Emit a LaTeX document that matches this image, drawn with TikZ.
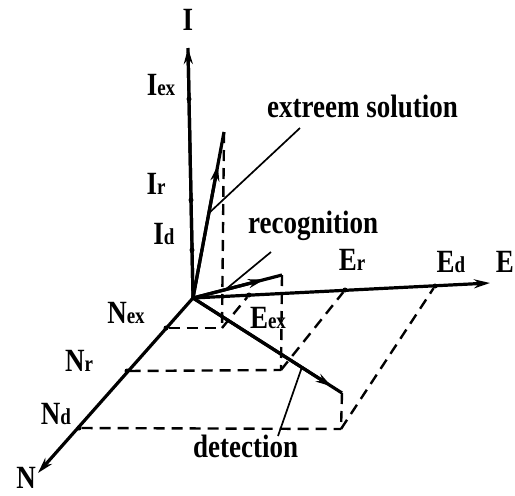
\documentclass[tikz,border=0pt]{standalone}
\usepackage{fontspec}
\setmainfont{Liberation Serif}
\usetikzlibrary{arrows.meta,calc}
\newcommand\tl[1]{\scalebox{1}[1.2]{#1}}
\newcommand\sbs[1]{{\fontsize{19}{19}\selectfont #1}}
\begin{document}
\begin{tikzpicture}[x=1pt,y=-1pt,
  lab/.style={font=\fontsize{27}{27}\selectfont\bfseries, inner sep=0pt},
  axis/.style={line width=3.2pt},
  vec/.style={line width=3.2pt},
  lead/.style={line width=1.7pt},
  dsh/.style={line width=2.4pt, dash pattern=on 11pt off 7pt},
  tip/.style={-{Stealth[length=16pt,width=9pt]}},
  tick/.style={circle, fill, inner sep=0pt, minimum size=5pt}]
\useasboundingbox (0,0) rectangle (515,496);
% axes
\coordinate (O) at (193,298);
\coordinate (Itop) at (188,48);
\coordinate (Eend) at (490,283);
\coordinate (Nend) at (38,473);
\draw[axis] (O) -- (Itop);
\draw[axis,tip] (O) -- (Itop);
\draw[axis,tip] (O) -- (Eend);
\draw[axis,tip] (O) -- (Nend);
% ticks on axes
\node[tick] (tIex) at (189,99) {};
\node[tick] (tIr) at (191,200) {};
\node[tick] (tId) at (192,250) {};
\node[tick] (tNex) at (166,328) {};
\node[tick] (tNr) at (127,371) {};
\node[tick] (tNd) at (79,428) {};
\node[tick] (tEex) at (249,295) {};
\node[tick] (tEr) at (345,290) {};
\node[tick] (tEd) at (435,286) {};
% vectors
\coordinate (T1) at (224,132);
\coordinate (T2) at (282,275);
\coordinate (T3) at (342,393);
\draw[vec] (O) -- (T1);
\draw[vec,tip] (O) -- ($(O)!0.8!(T1)$);
\draw[vec] (O) -- (T2);
\draw[vec,tip] (O) -- ($(O)!0.8!(T2)$);
\draw[vec] (O) -- (T3);
\draw[vec,tip] (O) -- ($(O)!0.93!(T3)$);
% feet
\coordinate (F1) at (222,328);
\coordinate (F2) at (281,370);
\coordinate (F3) at (341,429);
\draw[dsh] (T1) -- (F1);
\draw[dsh] (tNex) -- (F1);
\draw[dsh] (F1) -- (tEex);
\draw[dsh] (T2) -- (F2);
\draw[dsh] (tNr) -- (F2);
\draw[dsh] (F2) -- (tEr);
\draw[dsh] (T3) -- (F3);
\draw[dsh] (tNd) -- (F3);
\draw[dsh] (F3) -- (tEd);
% leader lines
\coordinate (L1a) at (300,128);
\coordinate (L1b) at (209,213);
\coordinate (L2a) at (271,252);
\coordinate (L2b) at (225,290);
\coordinate (L3a) at (302,367);
\coordinate (L3b) at (278,436);
\draw[lead] (L1a) -- (L1b);
\draw[lead] (L2a) -- (L2b);
\draw[lead] (L3a) -- (L3b);
% labels
\node[lab] (lI) at (188,20) {\tl{I}};
\node[lab] (lIex) at (161,85) {\tl{I\sbs{ex}}};
\node[lab] (lIr) at (156,184) {\tl{I\sbs{r}}};
\node[lab] (lId) at (164,234) {\tl{I\sbs{d}}};
\node[lab] (lN) at (26,478) {\tl{N}};
\node[lab] (lNex) at (126,313) {\tl{N\sbs{ex}}};
\node[lab] (lNr) at (79,361) {\tl{N\sbs{r}}};
\node[lab] (lNd) at (56,414) {\tl{N\sbs{d}}};
\node[lab] (lE) at (505,262) {\tl{E}};
\node[lab] (lEr) at (352,260) {\tl{E\sbs{r}}};
\node[lab] (lEd) at (451,262) {\tl{E\sbs{d}}};
\node[lab] (lEex) at (268,318) {\tl{E\sbs{ex}}};
\node[lab, anchor=base west] (lext) at (267,117) {\tl{extreem solution}};
\node[lab, anchor=base west] (lrec) at (248,233) {\tl{recognition}};
\node[lab, anchor=base west] (ldet) at (193,457) {\tl{detection}};
\end{tikzpicture}
\end{document}
